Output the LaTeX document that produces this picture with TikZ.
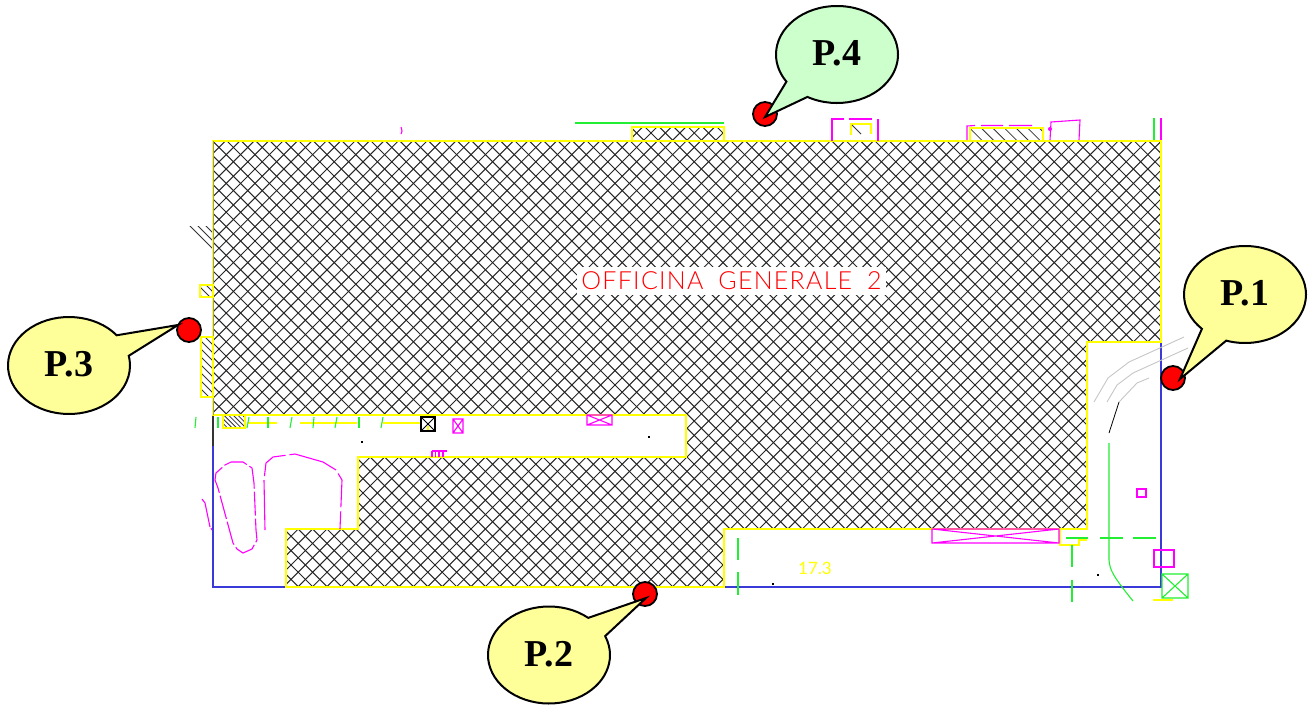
\documentclass[tikz,border=0pt]{standalone}
\usepackage{fontspec}
\setmainfont{Liberation Serif}
\newfontfamily\cadfont[UprightFont=* Light,LetterSpace=5]{Lato}
\newfontfamily\cadnum{Lato}
\usetikzlibrary{shapes.callouts}
\definecolor{wallyellow}{HTML}{FFFF00}
\definecolor{magcol}{HTML}{FF00FF}
\definecolor{grncol}{HTML}{22EE33}
\definecolor{blucol}{HTML}{3A3AD8}
\definecolor{calloutyellow}{HTML}{FFFF99}
\definecolor{calloutgreen}{HTML}{CCFFCC}
\tikzset{
  hatchline/.style={black!85,line width=1pt},
  wall/.style={wallyellow,line width=1.5pt},
  border/.style={blucol,line width=1.2pt},
  mag/.style={magcol,line width=1.1pt},
  grn/.style={grncol,line width=1.1pt},
  cad/.style={gray!45,line width=0.9pt},
  spot/.style={circle,draw=black,fill=red,line width=1.8pt,minimum size=24pt,inner sep=0pt},
  bubble/.style={ellipse callout,draw=black,line width=2pt,minimum width=122pt,minimum height=97pt,inner sep=0pt,
     callout pointer arc=27,font=\fontsize{38}{42}\selectfont\bfseries,text=black},
  dotmark/.style={fill=black,inner sep=0pt,minimum size=2pt},
}
\newcommand{\crosshatch}{%
  \foreach \k in {-40,...,70}{
    \pgfmathsetmacro{\cc}{856+14.4*\k}
    \draw[hatchline] (\cc-100,100) -- (\cc-620,620);
  }
  \foreach \k in {-25,...,80}{
    \pgfmathsetmacro{\dd}{-58+14.4*\k}
    \draw[hatchline] (\dd+100,100) -- (\dd+620,620);
  }}
\newcommand{\slanthatch}[3]{% spacing, first offset, count
  \foreach \k in {0,...,#3}{
    \pgfmathsetmacro{\dd}{#2+#1*\k}
    \draw[black!80,line width=0.8pt] (\dd+100,100) -- (\dd+620,620);
  }}
\newcommand{\bubbletext}[1]{\raisebox{3pt}{#1}\hspace{13pt}}
\begin{document}
\begin{tikzpicture}[x=1pt,y=-1pt]
\useasboundingbox (0,0) rectangle (1308,704);
% cross-hatched floor
\begin{scope}
\clip (213,141) -- (1161,141) -- (1161,342) -- (1087,342) -- (1087,529) -- (724,529) -- (724,587) -- (286,587) -- (286,529) -- (358,529) -- (358,457) -- (686,457) -- (686,415) -- (213,415) -- cycle
      (632,127) rectangle (724,141);
\crosshatch
\end{scope}
% slanted hatch outside
\begin{scope}
\clip (188,226) rectangle (213,250);
\slanthatch{8}{-36}{2}
\end{scope}
\begin{scope}
\clip (200,285) rectangle (213,297);
\slanthatch{8}{-95}{3}
\end{scope}
\begin{scope}
\clip (201,337) rectangle (213,397);
\slanthatch{8}{-196}{9}
\end{scope}
\begin{scope}
\clip (223,415) rectangle (245,428);
\slanthatch{4.6}{-205}{9}
\end{scope}
\begin{scope}
\clip (970,128) rectangle (1043,140);
\slanthatch{11.6}{830}{8}
\end{scope}
% blue border
\draw[border] (213,415) -- (213,587) -- (286,587);
\draw[border] (724,587) -- (1161,587) -- (1161,342);
\draw[black!80,line width=1.2pt] (213,415) -- (213,446);
% walls
\draw[wall] (213,141) -- (1161,141) -- (1161,342) -- (1087,342) -- (1087,529) -- (724,529) -- (724,587) -- (286,587) -- (286,529) -- (358,529) -- (358,457) -- (686,457) -- (686,415) -- (213,415) -- cycle;
\draw[black!40,line width=1pt] (213,141) -- (213,415);
\draw[wall] (632,141) -- (632,127) -- (724,127) -- (724,141);
\draw[wall,line width=1.1pt] (200,285) rectangle (213,297) (201,337) rectangle (213,397) (223,415) rectangle (245,428) (970,140) -- (970,128) -- (1043,128) -- (1043,140);
\draw[wall,line width=1.1pt] (248,423) -- (277,423) (300,423) -- (357,423) (383,423) -- (422,423) (428,426) -- (428,431);
\draw[wall,line width=1.1pt] (851,135) -- (851,124) -- (871,124) -- (871,134);
\draw[wall,line width=1.1pt] (1060,529) -- (1060,545) -- (1079,545) -- (1079,540) -- (1087,540);
\draw[wall,line width=1.1pt] (1153,600) -- (1173,600);
% green lines
\foreach \xa/\xb in {196/195,218/218,249/247,268/268,292/290,314/313,337/335,359/359,383/381}
  \draw[grn] (\xa,417) -- (\xb,428);
\draw[grn] (575,123) -- (724,123);
\draw[grn] (1154,118) -- (1154,140);
\draw[grn] (738,538) -- (738,560) (738,572) -- (738,595);
\draw[grn] (1072,545) -- (1072,567) (1072,580) -- (1072,602);
\draw[grn] (1066,538) -- (1088,538) (1100,538) -- (1123,538) (1133,538) -- (1156,538);
\draw[grn] (1109,443) -- (1109,560) .. controls (1110,570) and (1112,575) .. (1133,601);
\draw[grn] (1162,574) rectangle (1188,598) (1162,574) -- (1188,598) (1188,574) -- (1162,598);
% grey curves
\draw[cad] (1184,337) -- (1129,362) -- (1108,378) -- (1094,402);
\draw[cad] (1188,348) -- (1133,373) -- (1117,385) -- (1107,402);
\draw[cad] (1149,378) -- (1137,383) -- (1119,402);
\draw[black,line width=0.8pt] (1119,402) -- (1109,433);
% magenta details
\draw[mag,dash pattern=on 24pt off 3pt] (218,488) -- (215,480) -- (216,473) -- (225,465) -- (231,462) -- (243,462) -- (252,468) -- (254,483) -- (256,530) -- (257,540) -- (252,549) -- (243,553) -- (237,549) -- (233,543) -- cycle;
\draw[mag,dash pattern=on 50pt off 4pt on 35pt off 4pt] (265,530) -- (264,480) -- (266,463) -- (273,457) -- (295,454) -- (323,462) -- (336,470) -- (342,480) -- (340,529);
\draw[mag] (202,499) -- (205,503) -- (210,527) (211,528) -- (212,530);
\draw[mag] (453,419) rectangle (463,433) (453,419) -- (463,433) (463,419) -- (453,433);
\draw[mag] (587,415) rectangle (612,425) (587,415) -- (612,425) (612,415) -- (587,425);
\draw[mag] (932,529) rectangle (1059,543) (932,529) -- (1059,543) (1059,529) -- (932,543);
\draw[mag] (432,451) -- (447,451) (432,451) -- (432,457) (435.5,451) -- (435.5,457) (439,451) -- (439,457) (443,451) -- (443,457);
\draw[mag] (832,141) -- (832,119) -- (844,119) (849,119) -- (872,119) (878,119) -- (878,141);
\draw[mag] (967,140) -- (967,126) -- (975,125.5) (981,125.5) -- (1003,125.5) (1009,125.5) -- (1032,125.5);
\draw[mag] (1050,140) -- (1051,122) -- (1080,120) -- (1079,140);
\fill[magcol] (1050,129) circle (2pt);
\draw[mag] (1161,118) -- (1161,140);
\draw[mag] (401,127) -- (402,131) -- (401,134);
\draw[mag] (1137,489) rectangle (1146,497);
\draw[mag,line width=1.6pt] (1154,550) rectangle (1174,567);
% black details
\draw[black,line width=1.4pt] (421,417) rectangle (435,431);
\draw[black,line width=0.8pt] (421,417) -- (435,431) (435,417) -- (421,431);
\draw[black!80,line width=0.8pt] (852,125) -- (861,134);
\node[dotmark] (d1) at (362,442) {};
\node[dotmark] (d2) at (649,437) {};
\node[dotmark] (d3) at (773,584) {};
\node[dotmark] (d4) at (1098,575) {};
% texts
\node[fill=white,inner sep=0pt,minimum width=309pt,minimum height=28pt] (title) at (731.5,281) {\fontsize{25}{28}\selectfont\cadfont\color{red}OFFICINA\hspace{15pt}GENERALE\hspace{15pt}2};
\node[inner sep=0pt,text=wallyellow] (val) at (815,568) {\fontsize{17}{19}\selectfont\cadnum 17.3};
% spots and callouts
\node[spot] (s1) at (1173,378) {};
\node[spot] (s2) at (645,594) {};
\node[spot] (s3) at (189,330) {};
\node[spot] (s4) at (765,114) {};
\coordinate (t1) at (1180,379);
\coordinate (t2) at (646,598);
\coordinate (t3) at (178,325);
\coordinate (t4) at (765,117);
\node[bubble,fill=calloutyellow,callout absolute pointer={(t1)}] (p1) at (1245,294.5) {\bubbletext{P.1}};
\node[bubble,fill=calloutyellow,callout absolute pointer={(t2)}] (p2) at (549,655) {\bubbletext{P.2}};
\node[bubble,fill=calloutyellow,callout absolute pointer={(t3)}] (p3) at (69,365.5) {\bubbletext{P.3}};
\node[bubble,fill=calloutgreen,callout absolute pointer={(t4)}] (p4) at (837,54.5) {\bubbletext{P.4}};
\end{tikzpicture}
\end{document}
